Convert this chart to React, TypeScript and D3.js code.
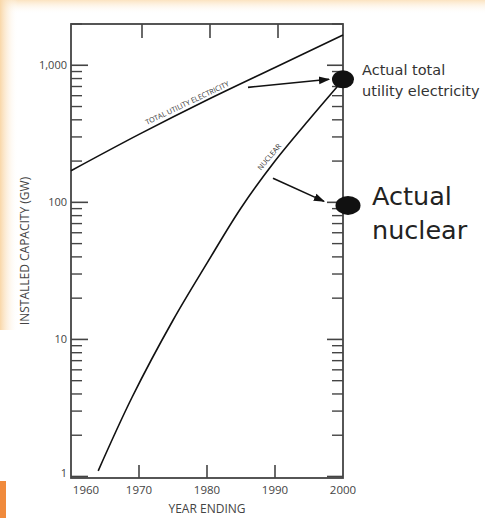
import React from "react";
import * as d3 from "d3";

// values
const totalYears = [1960, 1970, 1980, 1990, 2000];
const totalGW = [170, 313, 558, 964, 1660];

const nuclearYears = [1964, 1969, 1975, 1980, 1985, 1990, 1995, 2000];
const nuclearGW = [1.1, 3.8, 13.8, 36, 91, 200, 400, 780];

const actualYear = [2000, 2000];
const actualGW = [790, 95];

const yearTicks = [1960, 1970, 1980, 1990, 2000];
const majorTicks = [1, 10, 100, 1000];
const majorLabels = ["1", "10", "100", "1,000"];

const width = 485;
const height = 518;
const margin = {top: 24, right: 142, bottom: 40, left: 71};

const font = "'Open Sans', sans-serif";

function App() {
    const x = d3.scaleLinear().domain([1960, 2000]).range([margin.left, width - margin.right]);
    const y = d3.scaleLog().domain([0.975, 2000]).range([height - margin.bottom, margin.top]);

    const minorTicks: number[] = [];
    [1, 10, 100, 1000].forEach(function(d){
        for (let k = 2; k <= 9; k++) {
            if (d * k <= 2000) minorTicks.push(d * k);
        }
    });

    const line = d3.line<[number, number]>()
        .x(function(d){return x(d[0])})
        .y(function(d){return y(d[1])})
        .curve(d3.curveCatmullRom.alpha(0.5));

    const totalPts = totalYears.map((t, i) => [t, totalGW[i]] as [number, number]);
    const nuclearPts = nuclearYears.map((t, i) => [t, nuclearGW[i]] as [number, number]);

    const x0 = x(1960), x1 = x(2000), y0 = y.range()[0], y1 = y.range()[1];
    const axisColor = "#444";
    const dot0x = x(actualYear[0]), dot0y = y(actualGW[0]);
    const dot1x = x(actualYear[1]) + 5, dot1y = y(actualGW[1]);

    return (
        <div style={{position: "fixed", left: 0, top: 0, width: width, height: height}}>
        <svg width={width} height={height} style={{display: "block"}}>
            <defs>
                <linearGradient id="top" x1="0" y1="0" x2="0" y2="1">
                    <stop offset="0" stopColor="#fbe3c0" />
                    <stop offset="1" stopColor="#ffffff" stopOpacity="0" />
                </linearGradient>
                <linearGradient id="left" x1="0" y1="0" x2="1" y2="0">
                    <stop offset="0" stopColor="#f9d7a8" />
                    <stop offset="1" stopColor="#ffffff" stopOpacity="0" />
                </linearGradient>
                <marker id="arrow" viewBox="0 0 10 10" refX="9" refY="5" markerWidth="7" markerHeight="7" orient="auto">
                    <path d="M0,1.5 L10,5 L0,8.5 Z" fill="#111" />
                </marker>
            </defs>
            <rect x={0} y={0} width={width} height={height} fill="#fff" />
            <rect x={0} y={0} width={width} height={14} fill="url(#top)" />
            <rect x={0} y={0} width={18} height={330} fill="url(#left)" />
            <rect x={0} y={481} width={6} height={37} fill="#f08a3c" />

            {/* frame */}
            <rect x={x0} y={y1} width={x1 - x0} height={y0 - y1} fill="none" stroke={axisColor} strokeWidth={1.8} />

            {/* year ticks, bottom and top */}
            {yearTicks.slice(1, -1).map((t) => (
                <g key={"yt" + t} stroke={axisColor} strokeWidth={1.6}>
                    <line x1={x(t)} x2={x(t)} y1={y0} y2={y0 - 13} />
                    <line x1={x(t) + 3} x2={x(t) + 3} y1={y1} y2={y1 + 14} />
                </g>
            ))}
            {yearTicks.map((t, i) => (
                <text key={"yl" + t} x={x(t) + (i === 0 ? 15 : 0)} y={y0 + 16} textAnchor="middle" fontSize={11.5}
                      fontFamily={font} fill="#444">{t}</text>
            ))}

            {/* log ticks, left and right */}
            {majorTicks.map((v) => (
                <g key={"mj" + v} stroke={axisColor} strokeWidth={1.6}>
                    <line x1={x0} x2={x0 + 17} y1={y(v)} y2={y(v)} />
                    <line x1={x1} x2={x1 - 16} y1={y(v)} y2={y(v)} />
                </g>
            ))}
            {minorTicks.map((v) => (
                <g key={"mn" + v} stroke={axisColor} strokeWidth={1.4}>
                    <line x1={x0} x2={x0 + 11} y1={y(v)} y2={y(v)} />
                    <line x1={x1} x2={x1 - 11} y1={y(v)} y2={y(v)} />
                </g>
            ))}
            {majorTicks.map((v, i) => (
                <text key={"ml" + v} x={x0 - 4} y={y(v) + (i === 0 ? 1 : 4)} textAnchor="end" fontSize={11}
                      fontFamily={font} fill="#444">{majorLabels[i]}</text>
            ))}

            {/* axis titles */}
            <text transform={`translate(28.5,${(y0 + y1) / 2}) rotate(-90)`} textAnchor="middle" fontSize={12}
                  fontFamily={font} fill="#444">INSTALLED CAPACITY (GW)</text>
            <text x={(x0 + x1) / 2} y={513} textAnchor="middle" fontSize={12}
                  fontFamily={font} fill="#444">YEAR ENDING</text>

            {/* curves */}
            <path d={line(totalPts) || ""} fill="none" stroke="#111" strokeWidth={1.6} />
            <path d={line(nuclearPts) || ""} fill="none" stroke="#111" strokeWidth={1.6} />

            <text transform={`translate(${x(1977.5)},${y(480)}) rotate(-25.5)`} dy={-4} textAnchor="middle" fontSize={7.2}
                  fontFamily="'Liberation Sans Narrow', 'Open Sans', sans-serif" fill="#333">TOTAL UTILITY ELECTRICITY</text>
            <text transform={`translate(${x(1989.9)},${y(200)}) rotate(-50)`} dy={-4} textAnchor="middle" fontSize={7.2}
                  fontFamily="'Liberation Sans Narrow', 'Open Sans', sans-serif" fill="#333">NUCLEAR</text>

            {/* arrows and actual dots */}
            <line x1={248} y1={y(690)} x2={dot0x - 14} y2={dot0y} stroke="#111" strokeWidth={1.6} markerEnd="url(#arrow)" />
            <line x1={273} y1={y(150)} x2={dot1x - 24} y2={dot1y - 4} stroke="#111" strokeWidth={1.6} markerEnd="url(#arrow)" />
            <ellipse cx={dot0x} cy={dot0y} rx={11} ry={9} fill="#111" />
            <ellipse cx={dot1x} cy={dot1y} rx={12.5} ry={9.5} fill="#111" />

            <text fontFamily="'DejaVu Sans', sans-serif" fontSize={14.5} fill="#333">
                <tspan x={362} y={75}>Actual total</tspan>
                <tspan x={362} y={96}>utility electricity</tspan>
            </text>
            <text fontFamily="'DejaVu Sans', sans-serif" fontSize={25.5} fill="#222">
                <tspan x={372} y={205}>Actual</tspan>
                <tspan x={372} y={239}>nuclear</tspan>
            </text>
        </svg>
        </div>
    );
}

export default App;
